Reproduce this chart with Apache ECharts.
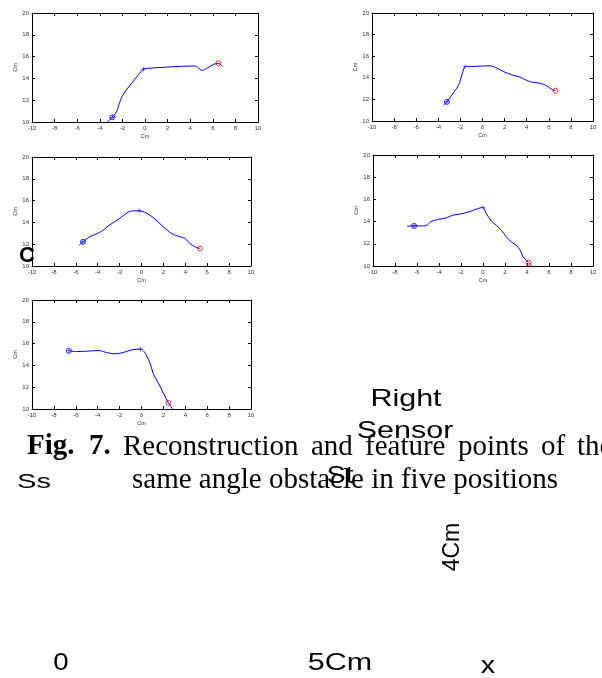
<!DOCTYPE html>
<html><head><meta charset="utf-8">
<script src="https://cdn.jsdelivr.net/npm/echarts@6/dist/echarts.min.js"></script>
<style>html,body{margin:0;padding:0;background:#fff}#c{width:602px;height:678px}</style>
</head><body><div id="c"></div>
<script>
// ---- data ----
const xRange = [-10, 10];
const yRange = [10, 20];
const axisName = 'Cm';

const p1Curve = [[-3.34,10],[-2.9,10.43],[-2.51,10.97],[-2.16,12.04],[-1.86,12.64],[-1.18,13.56],[-0.59,14.32],[-0.15,14.85],[0.15,14.92],[4.44,15.14],[4.88,14.83],[5.09,14.74],[5.47,14.92],[6.07,15.29],[6.5,15.38],[6.89,15.08]];
const p1Start = [-2.9,10.43], p1Mid = [-0.15,14.85], p1End = [6.5,15.4];

const p2Curve = [[-3.52,11.46],[-3.22,11.77],[-2.77,12.42],[-2.32,13.04],[-2.08,13.56],[-1.87,14.27],[-1.72,14.74],[-1.57,15.05],[-1.11,15.05],[0.69,15.11],[1.3,14.89],[1.9,14.58],[2.65,14.27],[3.4,14.06],[4.01,13.75],[4.46,13.6],[5.21,13.5],[5.81,13.25],[6.27,12.93],[6.6,12.81]];
const p2Start = [-3.22,11.77], p2Mid = [-1.57,15.02], p2End = [6.6,12.81];

const p3Curve = [[-5.7,11.91],[-5.34,12.22],[-4.73,12.68],[-3.81,13.09],[-2.9,13.77],[-1.98,14.38],[-1.22,14.94],[-0.76,15.06],[-0.21,15.06],[0.46,14.85],[1.07,14.44],[1.98,13.61],[2.74,12.99],[3.51,12.68],[3.96,12.53],[4.42,12.07],[4.88,11.76],[5.34,11.6]];
const p3Start = [-5.34,12.22], p3Mid = [-0.21,15.06], p3End = [5.34,11.6];

const p4Curve = [[-6.91,13.58],[-6.27,13.61],[-5.76,13.61],[-5.09,13.67],[-4.79,13.98],[-3.94,14.22],[-3.33,14.34],[-2.73,14.58],[-1.82,14.73],[-1.06,14.94],[-0.45,15.18],[0,15.27],[0.3,14.73],[0.76,14.04],[1.21,13.67],[1.67,13.22],[2.12,12.62],[2.58,12.17],[3.03,11.87],[3.39,11.42],[3.64,10.81],[3.94,10.51],[4.15,10.3],[4.45,10]];
const p4Start = [-6.27,13.61], p4Mid = [0,15.27], p4End = [4.15,10.3];

const p5Curve = [[-6.64,15.34],[-5.94,15.27],[-5.02,15.3],[-3.95,15.37],[-3.19,15.18],[-2.43,15.06],[-1.66,15.18],[-0.9,15.43],[-0.08,15.49],[0.23,15.27],[0.47,14.88],[0.78,14.21],[1.08,13.23],[1.54,12.38],[2,11.46],[2.46,10.55],[2.85,10]];
const p5Start = [-6.64,15.34], p5Mid = [-0.08,15.49], p5End = [2.46,10.55];

const curves = [p1Curve,p2Curve,p3Curve,p4Curve,p5Curve];
const starts = [p1Start,p2Start,p3Start,p4Start,p5Start];
const mids = [p1Mid,p2Mid,p3Mid,p4Mid,p5Mid];
const ends = [p1End,p2End,p3End,p4End,p5End];

const captionLine1 = ['Reconstruction','and','feature','points','of','the'];
const captionLine2 = 'same angle obstacle in five positions';

// ---- layout (pixels) ----
const boxes = [
  {l:32, r:258, t:13, b:122},
  {l:372, r:593, t:13, b:121},
  {l:32, r:251, t:157, b:266},
  {l:373, r:593, t:155, b:266},
  {l:32, r:251, t:300, b:409}
];
const line1X = [123, 311, 365, 458, 541, 577];

const BLUE = '#0000ff', RED = '#ff0000';
const PLUS = 'path://M-1,-0.13H1V0.13H-1Z M-0.13,-1H0.13V1H-0.13Z';
const lbl = {fontSize:6, color:'#333', fontFamily:'Liberation Sans, Arial'};

const grid = [], xAxis = [], yAxis = [], series = [];
boxes.forEach((b,i)=>{
  grid.push({left:b.l, top:b.t, width:b.r-b.l, height:b.b-b.t, containLabel:false, show:false});
  const common = {min:xRange[0], max:xRange[1], interval:2, gridIndex:i,
    axisLine:{show:true, onZero:false, lineStyle:{color:'#000', width:1}},
    axisTick:{show:true, inside:true, length:3, lineStyle:{color:'#000'}},
    splitLine:{show:false}};
  xAxis.push(Object.assign({}, common, {type:'value', position:'bottom',
    axisLabel:Object.assign({margin:3}, lbl), name:axisName, nameLocation:'middle', nameGap:11,
    nameTextStyle:{fontSize:5.5, color:'#333', fontFamily:'Liberation Sans, Arial'}}));
  xAxis.push(Object.assign({}, common, {type:'value', position:'top', axisLabel:{show:false}}));
  const cy = Object.assign({}, common, {min:yRange[0], max:yRange[1]});
  yAxis.push(Object.assign({}, cy, {type:'value', position:'left',
    axisLabel:Object.assign({margin:3}, lbl), name:axisName, nameLocation:'middle', nameGap:12,
    nameTextStyle:{fontSize:5.5, color:'#333', fontFamily:'Liberation Sans, Arial'}}));
  yAxis.push(Object.assign({}, cy, {type:'value', position:'right', axisLabel:{show:false}}));
  const xi = i*2, yi = i*2;
  series.push({type:'line', xAxisIndex:xi, yAxisIndex:yi, data:curves[i], showSymbol:false, symbol:'none',
    smooth:0.3, lineStyle:{color:BLUE, width:1}, z:2, silent:true});
  series.push({type:'scatter', xAxisIndex:xi, yAxisIndex:yi, data:[starts[i]], symbol:'circle', symbolSize:5,
    itemStyle:{color:'none', borderColor:BLUE, borderWidth:1}, z:3});
  series.push({type:'scatter', xAxisIndex:xi, yAxisIndex:yi, data:[starts[i], mids[i]], symbol:PLUS, symbolSize:5,
    itemStyle:{color:BLUE}, z:3});
  series.push({type:'scatter', xAxisIndex:xi, yAxisIndex:yi, data:[ends[i]], symbol:'circle', symbolSize:5,
    itemStyle:{color:'none', borderColor:RED, borderWidth:1}, z:4});
});

const serif = 'Liberation Serif, Times New Roman, serif';
const sans = 'Liberation Sans, Arial, sans-serif';
function t(x,y,text,font,opts){
  return Object.assign({type:'text', x:x, y:y, style:{text:text, font:font, fill:'#000',
    align:(opts&&opts.align)||'left', verticalAlign:'middle'}, z:10}, opts&&opts.el||{});
}
const graphic = [
  t(27,447,'Fig.  7.','bold 29px '+serif),
  ...captionLine1.map((w,k)=>t(line1X[k],447,w,'29px '+serif)),
  t(132,480,captionLine2,'29px '+serif),
  t(406,399,'Right','24px '+sans,{align:'center', el:{scaleX:1.27}}),
  t(405,431,'Sensor','24px '+sans,{align:'center', el:{scaleX:1.27}}),
  t(340,476,'St','24px '+sans,{align:'center', el:{scaleX:1.2}}),
  t(34,482,'Ss','20px '+sans,{align:'center', el:{scaleX:1.45}}),
  t(61,663,'0','24px '+sans,{align:'center', el:{scaleX:1.15}}),
  t(340,663,'5Cm','24px '+sans,{align:'center', el:{scaleX:1.27}}),
  t(488,666,'x','24px '+sans,{align:'center', el:{scaleX:1.2}}),
  t(453,547,'4Cm','23px '+sans,{align:'center', el:{rotation:Math.PI/2}}),
  t(27,256,'C','bold 22px '+sans,{align:'center'})
];

const chart = echarts.init(document.getElementById('c'), null, {renderer:'canvas'});
chart.setOption({animation:false, backgroundColor:'#fff', grid, xAxis, yAxis, series, graphic});
</script></body></html>
